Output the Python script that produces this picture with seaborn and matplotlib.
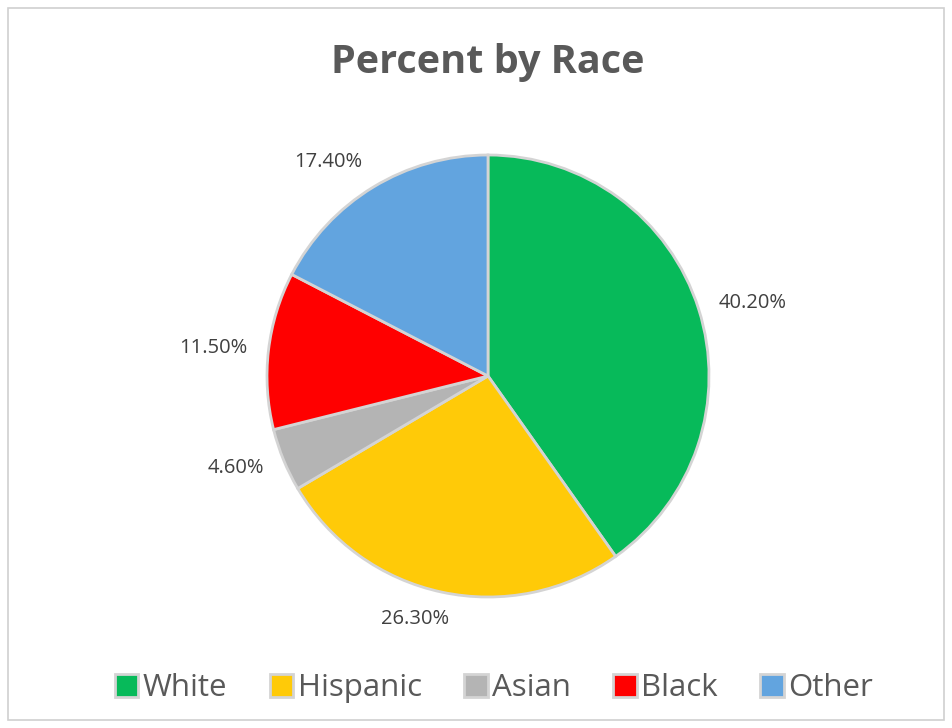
import matplotlib
matplotlib.use("Agg")
import matplotlib.pyplot as plt
import seaborn as sns
import numpy as np
from matplotlib.patches import Rectangle

categories = ["White", "Hispanic", "Asian", "Black", "Other"]
values = [40.2, 26.3, 4.6, 11.5, 17.4]
colors = ["#07BA5A", "#FFCA08", "#B4B4B4", "#FF0000", "#62A4DF"]
title = "Percent by Race"

sns.set_theme(style="white")
plt.rcParams['font.family'] = ['Open Sans', 'DejaVu Sans']
palette = sns.color_palette(colors)

fig = plt.figure(figsize=(9.52, 7.28), dpi=100)
W, H = 952, 728
cx, cy, r = 488, 376, 221
ax = fig.add_axes([(cx - r) / W, (H - cy - r) / H, 2 * r / W, 2 * r / H])

wedges, _ = ax.pie(
    values, colors=palette, startangle=90, counterclock=False,
    wedgeprops=dict(edgecolor="#D4D4D4", linewidth=2.0),
)
ax.set_xlim(-1, 1)
ax.set_ylim(-1, 1)
ax.set_aspect("equal")

# data labels placed just outside each wedge, anchored at the nearest corner
for w, v in zip(wedges, values):
    ang = np.deg2rad((w.theta1 + w.theta2) / 2)
    c, s = np.cos(ang), np.sin(ang)
    ha = "left" if c > 0.3 else ("right" if c < -0.3 else "center")
    va = "bottom" if s > 0.6 else ("top" if s < -0.6 else "center")
    x = 1.095 * c
    if ha == "center":
        x -= 0.1
    ax.text(x, 1.08 * s if va != "center" else 1.095 * s, f"{v:.2f}%", ha=ha, va=va,
            fontsize=14.5, color="#404040")

fig.text(488 / W, 1 - 62 / H, title, ha="center", va="center",
         fontsize=28.5, fontweight="bold", color="#595959")

leg = fig.legend(wedges, categories, loc="center", bbox_to_anchor=(494 / W, 1 - 688 / H),
                 ncol=5, frameon=False, fontsize=22.5, handlelength=0.75, handleheight=0.75,
                 handletextpad=0.15, columnspacing=1.35, labelcolor="#595959")

fig.patches.append(Rectangle((8 / W, 8 / H), 1 - 16 / W, 1 - 16 / H, transform=fig.transFigure,
                             fill=False, edgecolor="#D0D0D0", linewidth=1.2))

fig.savefig("out.png", dpi=100)
